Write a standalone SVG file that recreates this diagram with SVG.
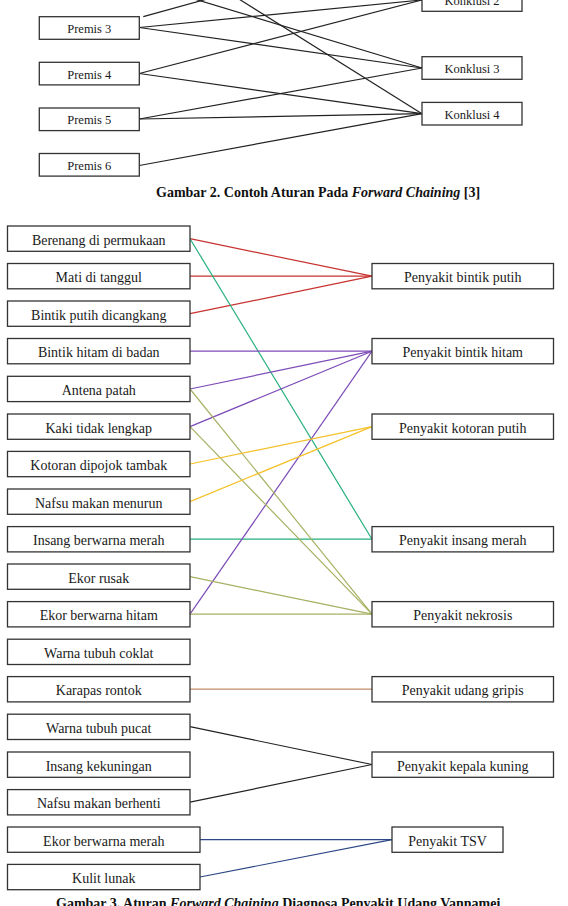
<svg xmlns="http://www.w3.org/2000/svg" width="568" height="906" viewBox="0 0 568 906">
<style>
.box{fill:#fff;stroke:#333;stroke-width:1.3}
.t{font-family:"Liberation Serif","Times New Roman",serif;font-size:14px;fill:#1a1a1a;text-anchor:middle}
.ts{font-size:12.5px}
.cap{font-family:"Liberation Serif","Times New Roman",serif;font-size:14px;font-weight:bold;fill:#111}
.k{stroke:#222;stroke-width:1.2;fill:none}
.c line{stroke-width:1.2;fill:none}
.red{stroke:#c7312f}.teal{stroke:#26b07c}.pur{stroke:#7d4cb8}.oli{stroke:#a7b062}.yel{stroke:#f5c12a}.brn{stroke:#c38f68}.blk{stroke:#222}.nav{stroke:#2b4785}
</style>
<rect width="568" height="906" fill="#fff"/>
<g id="connectors-top">
<line class="k" x1="143.3" y1="16.7" x2="260" y2="-15.7"/>
<line class="k" x1="139.3" y1="-17.7" x2="422" y2="68"/>
<line class="k" x1="139.3" y1="-63.4" x2="422" y2="113.7"/>
<line class="k" x1="139.3" y1="27.5" x2="422" y2="0"/>
<line class="k" x1="139.3" y1="27.5" x2="422" y2="68"/>
<line class="k" x1="139.3" y1="73.5" x2="422" y2="0"/>
<line class="k" x1="139.3" y1="73.5" x2="422" y2="113.7"/>
<line class="k" x1="139.3" y1="119" x2="422" y2="68"/>
<line class="k" x1="139.3" y1="119" x2="422" y2="113.7"/>
<line class="k" x1="139.3" y1="165.5" x2="422" y2="113.7"/>
</g>
<g id="premis3"><rect class="box" x="39.3" y="16.7" width="100" height="22.6"/><text class="t ts" x="89.3" y="33">Premis 3</text></g>
<g id="premis4"><rect class="box" x="39.3" y="62.3" width="100" height="22.6"/><text class="t ts" x="89.3" y="78.6">Premis 4</text></g>
<g id="premis5"><rect class="box" x="39.3" y="108" width="100" height="22.6"/><text class="t ts" x="89.3" y="124.3">Premis 5</text></g>
<g id="premis6"><rect class="box" x="39.3" y="153.5" width="100" height="22.6"/><text class="t ts" x="89.3" y="169.8">Premis 6</text></g>
<g id="konklusi2"><rect class="box" x="422" y="-11.3" width="100" height="22.6"/><text class="t ts" x="472" y="5">Konklusi 2</text></g>
<g id="konklusi3"><rect class="box" x="422" y="56.7" width="100" height="22.6"/><text class="t ts" x="472" y="73">Konklusi 3</text></g>
<g id="konklusi4"><rect class="box" x="422" y="102.4" width="100" height="22.6"/><text class="t ts" x="472" y="118.7">Konklusi 4</text></g>
<text id="caption2" class="cap" x="156" y="197">Gambar 2. Contoh Aturan Pada <tspan font-style="italic">Forward Chaining</tspan> [3]</text>

<g id="connectors" class="c">
<line class="red" x1="190" y1="238.7" x2="372" y2="276.2"/>
<line class="red" x1="190" y1="276.2" x2="372" y2="276.2"/>
<line class="red" x1="190" y1="313.7" x2="372" y2="276.2"/>
<line class="teal" x1="190" y1="238.7" x2="372" y2="539.2"/>
<line class="teal" x1="190" y1="539.2" x2="372" y2="539.2"/>
<line class="pur" x1="190" y1="351.2" x2="372" y2="351.2"/>
<line class="pur" x1="190" y1="389" x2="372" y2="351.2"/>
<line class="pur" x1="190" y1="426.6" x2="372" y2="351.2"/>
<line class="pur" x1="190" y1="614.2" x2="372" y2="351.2"/>
<line class="oli" x1="190" y1="389" x2="372" y2="614.2"/>
<line class="oli" x1="190" y1="426.6" x2="372" y2="614.2"/>
<line class="oli" x1="190" y1="576.7" x2="372" y2="614.2"/>
<line class="oli" x1="190" y1="614.2" x2="372" y2="614.2"/>
<line class="yel" x1="190" y1="464" x2="372" y2="426.6"/>
<line class="yel" x1="190" y1="501.6" x2="372" y2="426.6"/>
<line class="brn" x1="190" y1="689.2" x2="372" y2="689.2"/>
<line class="blk" x1="190" y1="726.7" x2="372" y2="764.5"/>
<line class="blk" x1="190" y1="802.2" x2="372" y2="764.5"/>
<line class="nav" x1="200" y1="839.7" x2="392" y2="839.7"/>
<line class="nav" x1="200" y1="877" x2="392" y2="839.7"/>
</g>

<g id="n-berenang"><rect class="box" x="7.5" y="226" width="182.5" height="25.3"/><text class="t" x="98.75" y="244.5">Berenang di permukaan</text></g>
<g id="n-mati"><rect class="box" x="7.5" y="263.5" width="182.5" height="25.3"/><text class="t" x="98.75" y="282">Mati di tanggul</text></g>
<g id="n-bintikputih"><rect class="box" x="7.5" y="301" width="182.5" height="25.3"/><text class="t" x="98.75" y="319.5">Bintik putih dicangkang</text></g>
<g id="n-bintikhitam"><rect class="box" x="7.5" y="338.5" width="182.5" height="25.3"/><text class="t" x="98.75" y="357">Bintik hitam di badan</text></g>
<g id="n-antena"><rect class="box" x="7.5" y="376.3" width="182.5" height="25.3"/><text class="t" x="98.75" y="394.8">Antena patah</text></g>
<g id="n-kaki"><rect class="box" x="7.5" y="414" width="182.5" height="25.3"/><text class="t" x="98.75" y="432.5">Kaki tidak lengkap</text></g>
<g id="n-kotoran"><rect class="box" x="7.5" y="451.4" width="182.5" height="25.3"/><text class="t" x="98.75" y="469.9">Kotoran dipojok tambak</text></g>
<g id="n-nafsumenurun"><rect class="box" x="7.5" y="489" width="182.5" height="25.3"/><text class="t" x="98.75" y="507.5">Nafsu makan menurun</text></g>
<g id="n-insangmerah"><rect class="box" x="7.5" y="526.6" width="182.5" height="25.3"/><text class="t" x="98.75" y="545.1">Insang berwarna merah</text></g>
<g id="n-ekorrusak"><rect class="box" x="7.5" y="564" width="182.5" height="25.3"/><text class="t" x="98.75" y="582.5">Ekor rusak</text></g>
<g id="n-ekorhitam"><rect class="box" x="7.5" y="601.6" width="182.5" height="25.3"/><text class="t" x="98.75" y="620.1">Ekor berwarna hitam</text></g>
<g id="n-coklat"><rect class="box" x="7.5" y="639.2" width="182.5" height="25.3"/><text class="t" x="98.75" y="657.7">Warna tubuh coklat</text></g>
<g id="n-karapas"><rect class="box" x="7.5" y="676.6" width="182.5" height="25.3"/><text class="t" x="98.75" y="695.1">Karapas rontok</text></g>
<g id="n-pucat"><rect class="box" x="7.5" y="714.2" width="182.5" height="25.3"/><text class="t" x="98.75" y="732.7">Warna tubuh pucat</text></g>
<g id="n-kekuningan"><rect class="box" x="7.5" y="752" width="182.5" height="25.3"/><text class="t" x="98.75" y="770.5">Insang kekuningan</text></g>
<g id="n-berhenti"><rect class="box" x="7.5" y="789.6" width="182.5" height="25.3"/><text class="t" x="98.75" y="808.1">Nafsu makan berhenti</text></g>
<g id="n-ekormerah"><rect class="box" x="7.5" y="827" width="192.5" height="25.3"/><text class="t" x="103.75" y="845.5">Ekor berwarna merah</text></g>
<g id="n-kulit"><rect class="box" x="7.5" y="864.4" width="192.5" height="25.3"/><text class="t" x="103.75" y="882.9">Kulit lunak</text></g>

<g id="d-bintikputih"><rect class="box" x="372" y="263.5" width="181.5" height="25.3"/><text class="t" x="462.75" y="282">Penyakit bintik putih</text></g>
<g id="d-bintikhitam"><rect class="box" x="372" y="338.5" width="181.5" height="25.3"/><text class="t" x="462.75" y="357">Penyakit bintik hitam</text></g>
<g id="d-kotoran"><rect class="box" x="372" y="414" width="181.5" height="25.3"/><text class="t" x="462.75" y="432.5">Penyakit kotoran putih</text></g>
<g id="d-insang"><rect class="box" x="372" y="526.6" width="181.5" height="25.3"/><text class="t" x="462.75" y="545.1">Penyakit insang merah</text></g>
<g id="d-nekrosis"><rect class="box" x="372" y="601.6" width="181.5" height="25.3"/><text class="t" x="462.75" y="620.1">Penyakit nekrosis</text></g>
<g id="d-gripis"><rect class="box" x="372" y="676.6" width="181.5" height="25.3"/><text class="t" x="462.75" y="695.1">Penyakit udang gripis</text></g>
<g id="d-kepala"><rect class="box" x="372" y="752" width="181.5" height="25.3"/><text class="t" x="462.75" y="770.5">Penyakit kepala kuning</text></g>
<g id="d-tsv"><rect class="box" x="392" y="827" width="111" height="25.3"/><text class="t" x="447.5" y="845.5">Penyakit TSV</text></g>

<text id="caption3" class="cap" x="56" y="907.5">Gambar 3. Aturan <tspan font-style="italic">Forward Chaining</tspan> Diagnosa Penyakit Udang Vannamei</text>
</svg>
